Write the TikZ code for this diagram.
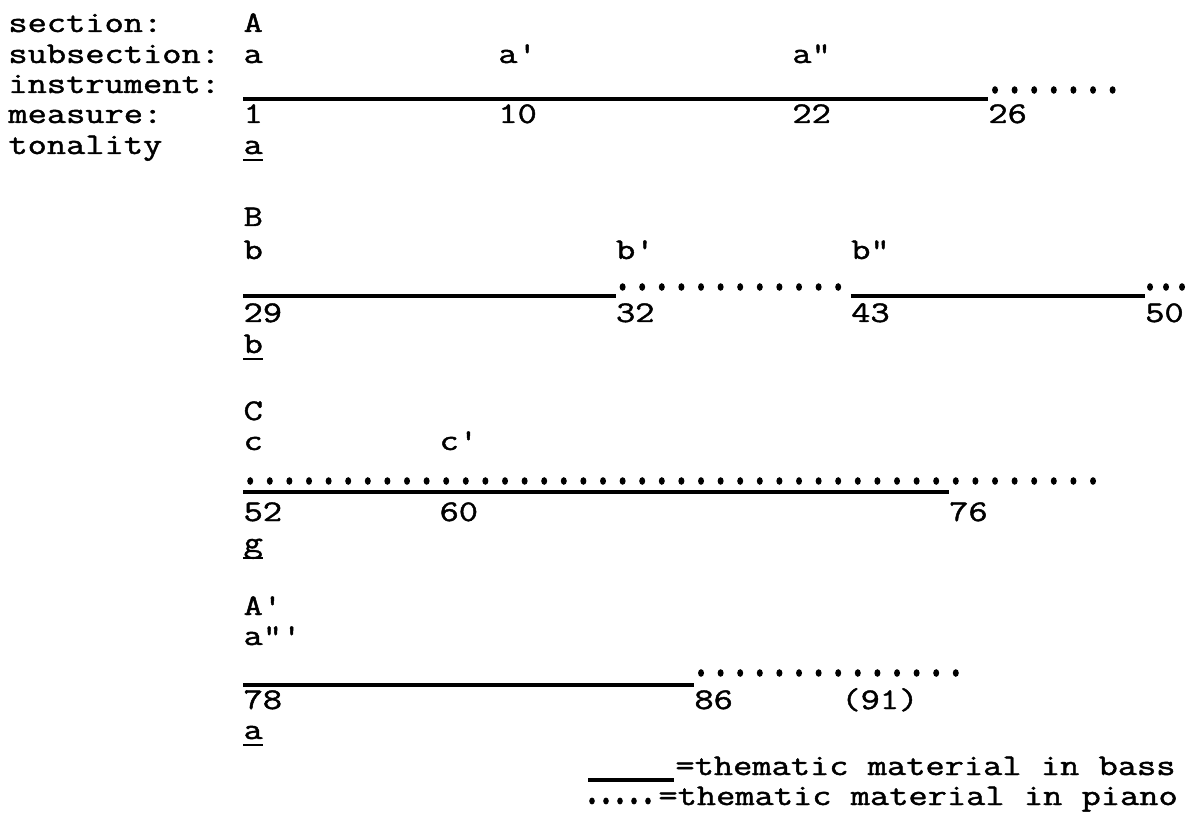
\documentclass[tikz,border=0pt]{standalone}
\usepackage{fontspec}
\setmonofont[FakeBold=1.3]{Latin Modern Mono}
\newcommand{\tw}[1]{\scalebox{1.245}[1]{#1}}
\begin{document}
\begin{tikzpicture}[x=0.5pt,y=-0.5pt,
  every node/.style={anchor=base west, inner sep=0pt, font=\ttfamily\fontsize{15}{18}\selectfont},
  bass/.style={line width=1.6pt},
  ul/.style={line width=1.3pt},
  pdot/.style={fill=black}]
\useasboundingbox (0,0) rectangle (1202,817);
\fill[white] (0,0) rectangle (1202,817);
% row labels
\node (lsec) at (8,32) {\tw{section:}};
\node (lsub) at (8,63) {\tw{subsection:}};
\node (lins) at (8,93) {\tw{instrument:}};
\node (lmea) at (8,123) {\tw{measure:}};
\node (lton) at (8,154) {\tw{tonality}};
% ---- A
\node (secA) at (243.2,32) {\tw{A}};
\node (subA) at (243.2,63) {\tw{a}};
\node (subA1) at (498,63) {\tw{a'}};
\node (subA2) at (792,63) {\tw{a"}};
\coordinate (A0) at (243.2,99);
\coordinate (A1) at (988,99);
\draw[bass] (A0) -- (A1);
\foreach \i in {50,...,56} \fill[pdot] ({15+19.6*\i},90) ellipse [x radius=1.5pt, y radius=1.9pt];
\node (mA1) at (243.2,123) {\tw{1}};
\node (mA10) at (498,123) {\tw{10}};
\node (mA22) at (792,123) {\tw{22}};
\node (mA26) at (988,123) {\tw{26}};
\node (tA) at (243.2,154) {\tw{a}};
\draw[ul] ([yshift=-3pt]tA.base west) -- ([yshift=-3pt]tA.base east);
% ---- B
\node (secB) at (243.2,226) {\tw{B}};
\node (subB) at (243.2,259) {\tw{b}};
\node (subB1) at (615.6,259) {\tw{b'}};
\node (subB2) at (850.8,259) {\tw{b"}};
\coordinate (B0) at (243.2,296);
\coordinate (B1) at (615.6,296);
\coordinate (B2) at (850.8,296);
\coordinate (B3) at (1144.8,296);
\draw[bass] (B0) -- (B1);
\draw[bass] (B2) -- (B3);
\foreach \i in {31,...,42} \fill[pdot] ({15+19.6*\i},287) ellipse [x radius=1.5pt, y radius=1.9pt];
\foreach \x in {1150,1166,1182} \fill[pdot] (\x,287) ellipse [x radius=1.5pt, y radius=1.9pt];
\node (mB29) at (243.2,322) {\tw{29}};
\node (mB32) at (615.6,322) {\tw{32}};
\node (mB43) at (850.8,322) {\tw{43}};
\node (mB50) at (1144.8,322) {\tw{50}};
\node (tB) at (243.2,353) {\tw{b}};
\draw[ul] ([yshift=-3pt]tB.base west) -- ([yshift=-3pt]tB.base east);
% ---- C
\node (secC) at (243.2,420) {\tw{C}};
\node (subC) at (243.2,450) {\tw{c}};
\node (subC1) at (439.2,450) {\tw{c'}};
\coordinate (C0) at (243.2,492);
\coordinate (C1) at (948.8,492);
\draw[bass] (C0) -- (C1);
\foreach \i in {12,...,55} \fill[pdot] ({15+19.6*\i},481) ellipse [x radius=1.5pt, y radius=1.9pt];
\node (mC52) at (243.2,521) {\tw{52}};
\node (mC60) at (439.2,521) {\tw{60}};
\node (mC76) at (948.8,521) {\tw{76}};
\node (tC) at (243.2,552) {\tw{g}};
\draw[ul] ([yshift=-3pt]tC.base west) -- ([yshift=-3pt]tC.base east);
% ---- A'
\node (secD) at (243.2,615) {\tw{A'}};
\node (subD) at (243.2,645) {\tw{a"'}};
\coordinate (D0) at (243.2,685);
\coordinate (D1) at (694,685);
\draw[bass] (D0) -- (D1);
\foreach \i in {35,...,48} \fill[pdot] ({15+19.6*\i},673) ellipse [x radius=1.5pt, y radius=1.9pt];
\node (mD78) at (243.2,709) {\tw{78}};
\node (mD86) at (694,709) {\tw{86}};
\node (mD91) at (841,709) {\tw{(91)}};
\node (tD) at (243.2,739) {\tw{a}};
\draw[ul] ([yshift=-3pt]tD.base west) -- ([yshift=-3pt]tD.base east);
% ---- legend
\coordinate (L0) at (588,780);
\coordinate (L1) at (674,780);
\draw[bass] (L0) -- (L1);
\node (leg1) at (675,775) {\tw{=thematic material in bass}};
\foreach \x in {592,606,620,634,648} \fill[pdot] (\x,801) ellipse [x radius=1.4pt, y radius=1.7pt];
\node (leg2) at (658,805) {\tw{=thematic material in piano}};
\end{tikzpicture}
\end{document}
